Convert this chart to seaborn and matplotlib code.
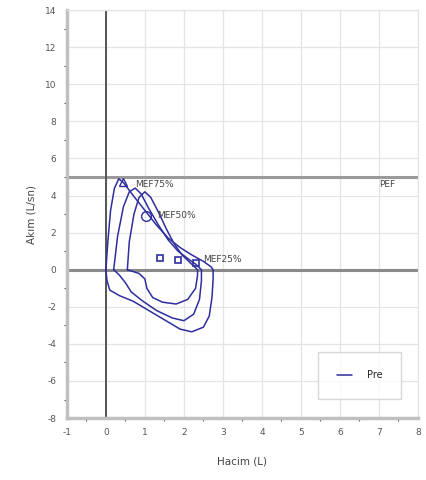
import pandas as pd
import seaborn as sns
import matplotlib.pyplot as plt
from matplotlib.ticker import MultipleLocator

# flow-volume loops, three trials
trial1_vol = [0.0, 0.05, 0.12, 0.22, 0.33, 0.45, 0.7, 1.0, 1.3, 1.6, 1.9, 2.2, 2.5, 2.7, 2.75,
              2.75, 2.72, 2.65, 2.5, 2.2, 1.9, 1.5, 1.1, 0.7, 0.35, 0.1, 0.03, 0.0]
trial1_flow = [0.0, 1.5, 3.2, 4.4, 4.9, 4.7, 4.0, 3.2, 2.4, 1.7, 1.2, 0.8, 0.45, 0.15, 0.0,
               -0.5, -1.5, -2.5, -3.1, -3.35, -3.2, -2.7, -2.2, -1.7, -1.4, -1.1, -0.6, 0.0]

trial2_vol = [0.2, 0.3, 0.45, 0.6, 0.75, 0.9, 1.1, 1.35, 1.6, 1.85, 2.1, 2.3, 2.45,
              2.45, 2.4, 2.25, 2.0, 1.7, 1.3, 0.95, 0.65, 0.5, 0.35, 0.2]
trial2_flow = [0.0, 1.8, 3.4, 4.2, 4.4, 4.1, 3.3, 2.4, 1.6, 1.0, 0.6, 0.3, 0.0,
               -0.6, -1.6, -2.4, -2.75, -2.6, -2.2, -1.7, -1.2, -0.7, -0.3, 0.0]

trial3_vol = [0.55, 0.6, 0.72, 0.85, 1.0, 1.15, 1.35, 1.55, 1.75, 1.95, 2.15, 2.3, 2.35,
              2.35, 2.3, 2.1, 1.8, 1.45, 1.2, 1.05, 1.0, 0.85, 0.55]
trial3_flow = [0.0, 1.5, 3.0, 3.9, 4.2, 3.9, 3.1, 2.2, 1.4, 0.8, 0.4, 0.1, 0.0,
               -0.3, -1.0, -1.6, -1.85, -1.75, -1.5, -1.0, -0.5, -0.2, 0.0]

mef75_pt = (0.45, 4.75)
mef50_pt = (1.02, 2.9)
mef25_vol = [1.4, 1.85, 2.3]
mef25_flow = [0.65, 0.5, 0.35]
pef_ref = 5.0

rows = []
for name, v, f in [("1", trial1_vol, trial1_flow), ("2", trial2_vol, trial2_flow),
                   ("3", trial3_vol, trial3_flow)]:
    for a, b in zip(v, f):
        rows.append([name, a, b, "Pre"])
df = pd.DataFrame(rows, columns=["trial", "Hacim (L)", "Akım (L/sn)", "set"])

sns.set_theme(style="white")
plt.rcParams['font.family'] = ['DejaVu Sans']
plt.rcParams['axes.unicode_minus'] = False
line_col = "#2e2e9e"

fig = plt.figure(figsize=(4.26, 4.8), dpi=100)
ax = fig.add_axes([0.157, 0.129, 0.824, 0.850])

ax.grid(True, color="#e4e4e4", linewidth=0.9, zorder=0)
ax.axhline(0, color="#8a8a8a", linewidth=2.2, zorder=1)
ax.axhline(pef_ref, color="#9a9a9a", linewidth=2.2, zorder=1)
ax.axvline(0, color="#555555", linewidth=1.4, zorder=1)

sns.lineplot(data=df, x="Hacim (L)", y="Akım (L/sn)", hue="set", units="trial",
             estimator=None, sort=False, palette=[line_col], linewidth=1.1, ax=ax, zorder=3)

ax.plot(*mef75_pt, marker="^", ms=6, mfc="none", mec=line_col, mew=1.0, zorder=4)
ax.plot(*mef50_pt, marker="o", ms=7, mfc="none", mec=line_col, mew=1.0, zorder=4)
ax.plot(mef25_vol, mef25_flow, ls="none", marker="s", ms=5, mfc="none", mec=line_col,
        mew=1.2, zorder=4)

txt = dict(fontsize=6.5, color="#444444", va="center")
ax.text(mef75_pt[0] + 0.3, mef75_pt[1] - 0.15, "MEF75%", **txt)
ax.text(mef50_pt[0] + 0.3, mef50_pt[1], "MEF50%", **txt)
ax.text(mef25_vol[-1] + 0.2, mef25_flow[-1] + 0.2, "MEF25%", **txt)
ax.text(7.0, pef_ref - 0.4, "PEF", **txt)

ax.set_xlim(-1, 8)
ax.set_ylim(-8, 14)
ax.xaxis.set_major_locator(MultipleLocator(1))
ax.xaxis.set_minor_locator(MultipleLocator(0.5))
ax.yaxis.set_major_locator(MultipleLocator(2))
ax.yaxis.set_minor_locator(MultipleLocator(1))
ax.tick_params(which="both", direction="out", colors="#555555", labelsize=6.5,
               labelcolor="#555555")
ax.tick_params(which="major", length=4, width=1.0)
ax.tick_params(which="minor", length=2.5, width=0.8, bottom=True, left=True)

for s in ["left", "bottom"]:
    ax.spines[s].set_color("#c0c0c0")
    ax.spines[s].set_linewidth(2.5)
for s in ["top", "right"]:
    ax.spines[s].set_color("#e4e4e4")
    ax.spines[s].set_linewidth(0.9)

ax.set_xlabel("Hacim (L)", fontsize=7.5, color="#444444", labelpad=14)
ax.set_ylabel("Akım (L/sn)", fontsize=7.5, color="#444444", labelpad=6)

leg = ax.legend(loc="lower right", bbox_to_anchor=(0.96, 0.04), fontsize=7,
                frameon=True, fancybox=False, borderpad=1.9, handlelength=1.6,
                handletextpad=1.5, borderaxespad=0.3)
leg.get_frame().set_edgecolor("#cfcfcf")
leg.get_frame().set_linewidth(1.0)
leg.set_title(None)

fig.savefig("out.png", dpi=100)
